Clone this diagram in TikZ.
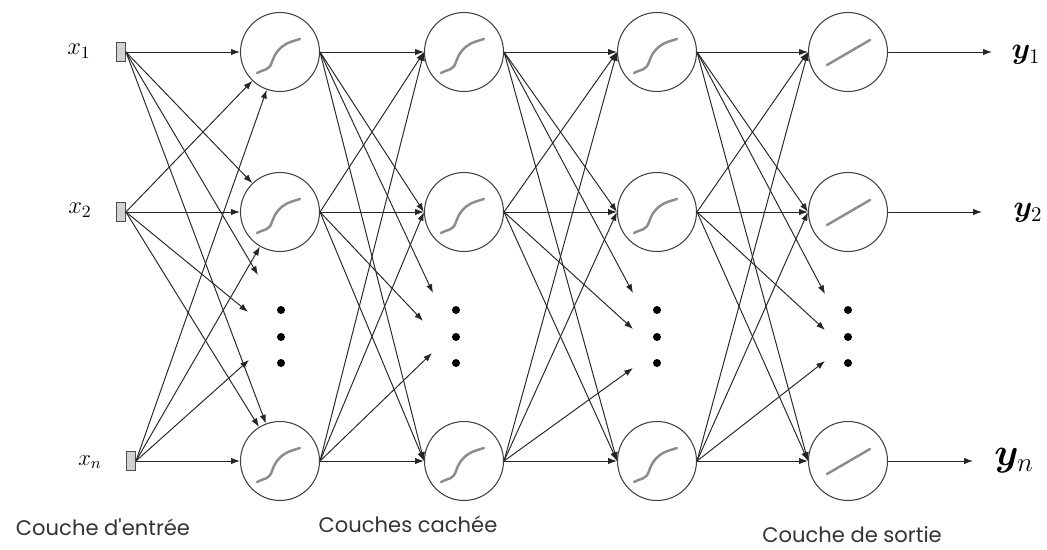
\RequirePackage{fix-cm}
\documentclass[tikz,border=0pt]{standalone}
\usepackage{fontspec}
\usepackage{bm}
\usetikzlibrary{arrows.meta}
\newfontfamily\legfont{Poppins}

\tikzset{
  conn/.style={-{Latex[length=5pt,width=3.6pt]}, line width=0.55pt, black!85},
  inbox/.style={rectangle, draw=black!70, fill=black!18, line width=0.5pt, minimum width=0.18cm, minimum height=0.38cm, inner sep=0pt},
  neuron/.style={circle, draw=black!75, line width=0.6pt, minimum size=1.58cm, inner sep=0pt},
  curveline/.style={black!45, line width=1.4pt, line cap=round},
  sigm/.style={neuron, path picture={\draw[curveline, shift={(path picture bounding box.center)}] (-23,21) .. controls (-16,17) and (-11,19) .. (-8,10) .. controls (-5,1) and (-1,-3) .. (3,-6) .. controls (8,-10) and (14,-11) .. (20,-13);}},
  lin/.style={neuron, path picture={\draw[curveline, shift={(path picture bounding box.center)}] (-21,13) -- (22,-12);}},
  dotnode/.style={circle, fill=black, minimum size=0.16cm, inner sep=0pt},
  legend/.style={font=\legfont\fontsize{12}{14}\selectfont, text=black!80}
}

\begin{document}
\begin{tikzpicture}[x=0.02cm, y=-0.02cm]
    \useasboundingbox (0,0) rectangle (1047,550);

    % inputs
    \node[inbox] (x1) at (121,52) {};
    \node[inbox] (x2) at (121,212) {};
    \node[inbox] (xn) at (131,461) {};
    \node (lx1) at (79,51) {\fontsize{14}{16}\selectfont $x_1$};
    \node (lx2) at (80,210) {\fontsize{14}{16}\selectfont $x_2$};
    \node (lxn) at (90,462) {\fontsize{13}{15}\selectfont $x_n$};

    % neurons
    \node[sigm] (a1) at (280,52) {};
    \node[sigm] (a2) at (280,212) {};
    \node[sigm] (an) at (280,461) {};
    \node[sigm] (b1) at (464,52) {};
    \node[sigm] (b2) at (464,212) {};
    \node[sigm] (bn) at (464,461) {};
    \node[sigm] (c1) at (657,52) {};
    \node[sigm] (c2) at (657,212) {};
    \node[sigm] (cn) at (657,461) {};
    \node[lin] (o1) at (848,52) {};
    \node[lin] (o2) at (848,212) {};
    \node[lin] (on) at (848,461) {};

    % dots
    \node[dotnode] (da1) at (281,310) {};
    \node[dotnode] (da2) at (281,337) {};
    \node[dotnode] (da3) at (281,363) {};
    \node[dotnode] (db1) at (456,310) {};
    \node[dotnode] (db2) at (456,337) {};
    \node[dotnode] (db3) at (456,363) {};
    \node[dotnode] (dc1) at (657,310) {};
    \node[dotnode] (dc2) at (657,337) {};
    \node[dotnode] (dc3) at (657,363) {};
    \node[dotnode] (dout1) at (848,310) {};
    \node[dotnode] (dout2) at (848,337) {};
    \node[dotnode] (dout3) at (848,363) {};

    \coordinate (ta1) at (258,275);
    \coordinate (ta2) at (248,312);
    \coordinate (ta3) at (249,360);
    \coordinate (tb1) at (433,293);
    \coordinate (tb2) at (423,321);
    \coordinate (tb3) at (432,353);
    \coordinate (tc1) at (633,293);
    \coordinate (tc2) at (633,329);
    \coordinate (tc3) at (633,368);
    \coordinate (tout1) at (825,294);
    \coordinate (tout2) at (825,330);
    \coordinate (tout3) at (825,361);

    % outputs
    \node (ly1) at (1026,55) {\fontsize{17}{19}\selectfont $\bm{y}_1$};
    \node (ly2) at (1028,213) {\fontsize{17}{19}\selectfont $\bm{y}_2$};
    \node (lyn) at (1014,461) {\fontsize{22}{24}\selectfont $\bm{y}_n$};
    \coordinate (e1) at (992,52);
    \coordinate (e2) at (982,212);
    \coordinate (en) at (973,461);

    % input -> first hidden layer
    \draw[conn] (x1.east) -- (a1);
    \draw[conn] (x1.east) -- (a2);
    \draw[conn] (x1.east) -- (ta1);
    \draw[conn] (x1.east) -- (an);
    \draw[conn] (x2.east) -- (a1);
    \draw[conn] (x2.east) -- (a2);
    \draw[conn] (x2.east) -- (ta2);
    \draw[conn] (x2.east) -- (an);
    \draw[conn] (xn.east) -- (a1);
    \draw[conn] (xn.east) -- (a2);
    \draw[conn] (xn.east) -- (ta3);
    \draw[conn] (xn.east) -- (an);

    % hidden 1 -> hidden 2
    \draw[conn] (a1.east) -- (b1.west);
    \draw[conn] (a1.east) -- (b2.west);
    \draw[conn] (a1.east) -- (tb1);
    \draw[conn] (a1.east) -- (bn.west);
    \draw[conn] (a2.east) -- (b1.west);
    \draw[conn] (a2.east) -- (b2.west);
    \draw[conn] (a2.east) -- (tb2);
    \draw[conn] (a2.east) -- (bn.west);
    \draw[conn] (an.east) -- (b1.west);
    \draw[conn] (an.east) -- (b2.west);
    \draw[conn] (an.east) -- (tb3);
    \draw[conn] (an.east) -- (bn.west);

    % hidden 2 -> hidden 3
    \draw[conn] (b1.east) -- (c1.west);
    \draw[conn] (b1.east) -- (c2.west);
    \draw[conn] (b1.east) -- (tc1);
    \draw[conn] (b1.east) -- (cn.west);
    \draw[conn] (b2.east) -- (c1.west);
    \draw[conn] (b2.east) -- (c2.west);
    \draw[conn] (b2.east) -- (tc2);
    \draw[conn] (b2.east) -- (cn.west);
    \draw[conn] (bn.east) -- (c1.west);
    \draw[conn] (bn.east) -- (c2.west);
    \draw[conn] (bn.east) -- (tc3);
    \draw[conn] (bn.east) -- (cn.west);

    % hidden 3 -> output
    \draw[conn] (c1.east) -- (o1.west);
    \draw[conn] (c1.east) -- (o2.west);
    \draw[conn] (c1.east) -- (tout1);
    \draw[conn] (c1.east) -- (on.west);
    \draw[conn] (c2.east) -- (o1.west);
    \draw[conn] (c2.east) -- (o2.west);
    \draw[conn] (c2.east) -- (tout2);
    \draw[conn] (c2.east) -- (on.west);
    \draw[conn] (cn.east) -- (o1.west);
    \draw[conn] (cn.east) -- (o2.west);
    \draw[conn] (cn.east) -- (tout3);
    \draw[conn] (cn.east) -- (on.west);

    \draw[conn] (o1.east) -- (e1);
    \draw[conn] (o2.east) -- (e2);
    \draw[conn] (on.east) -- (en);

    % layer names
    \node[legend] (cin) at (103,527) {Couche d'entrée};
    \node[legend] (chid) at (408,524) {Couches cachée};
    \node[legend] (cout) at (852,535) {Couche de sortie};
\end{tikzpicture}
\end{document}
